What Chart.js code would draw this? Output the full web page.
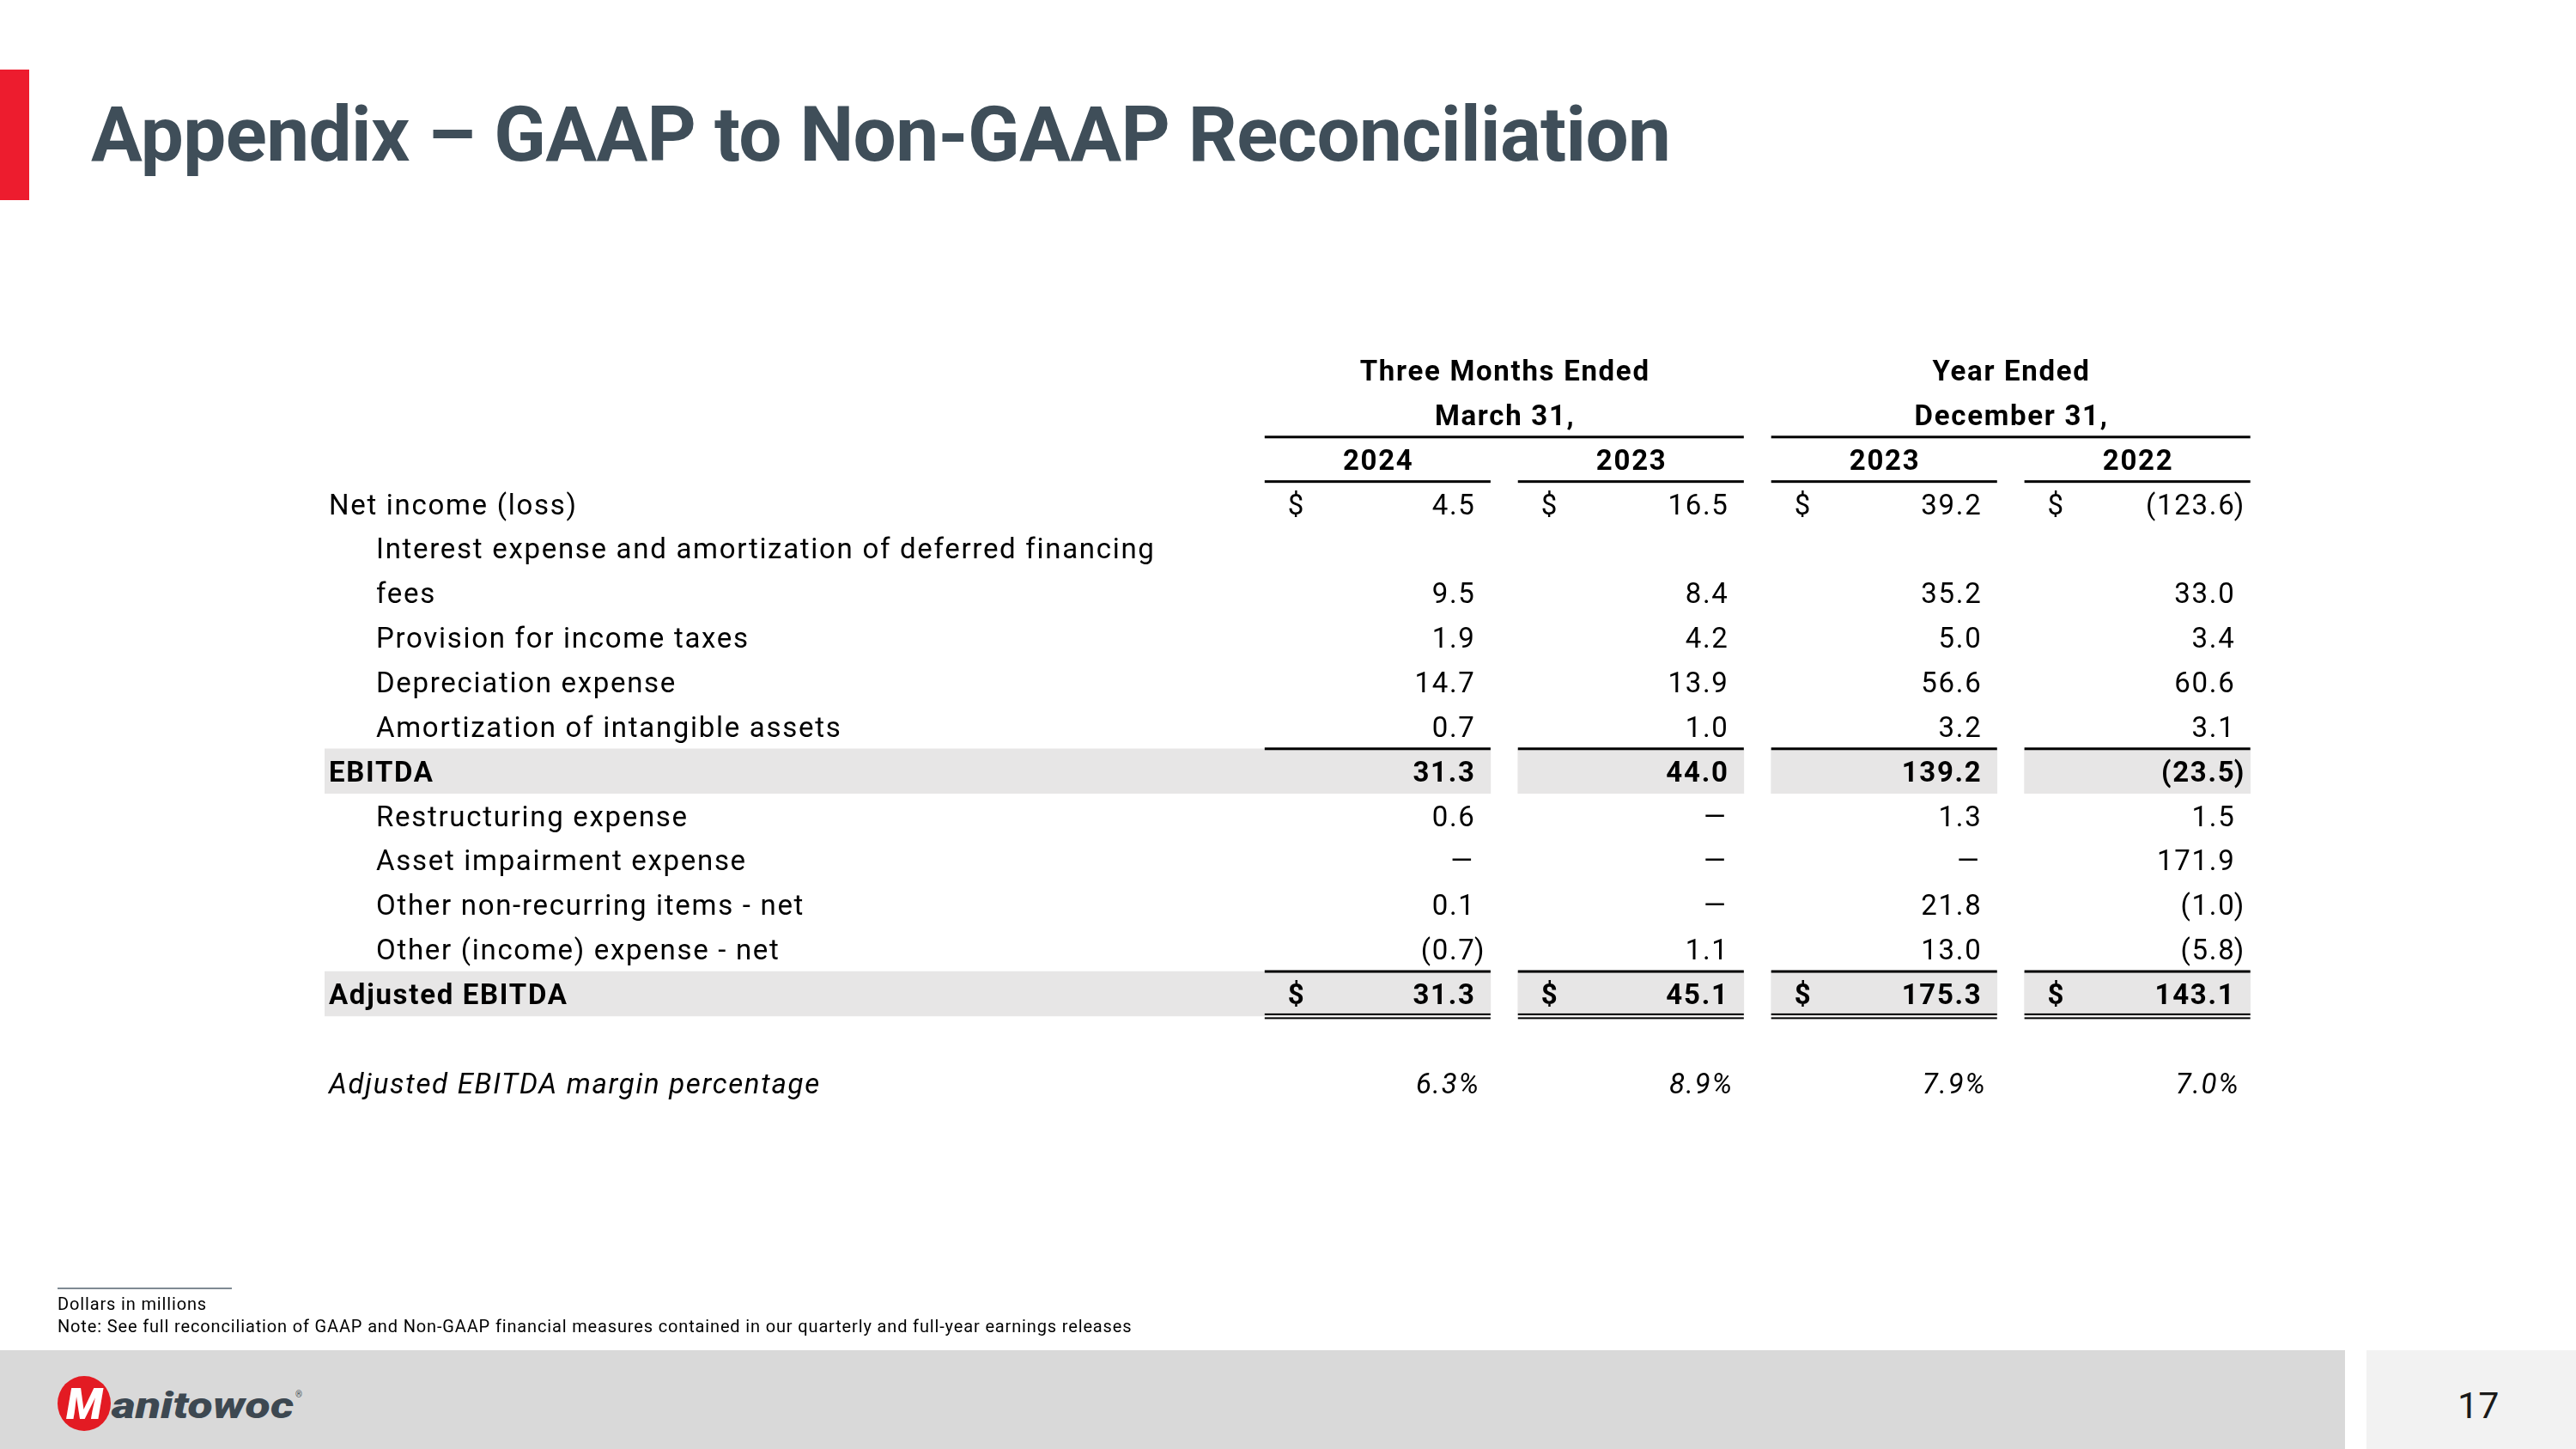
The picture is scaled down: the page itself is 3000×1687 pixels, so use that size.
<!DOCTYPE html>
<html>
<head>
<meta charset="utf-8">
<script src="https://cdn.jsdelivr.net/npm/chart.js@4.4.1/dist/chart.umd.min.js"></script>
<style>
  html, body { margin: 0; padding: 0; background: #fff; }
  body { width: 3000px; height: 1687px; position: relative; overflow: hidden; font-family: Roboto, sans-serif; }
  .accent { position: absolute; left: 0; top: 81px; width: 34px; height: 152px; background: #ED1C2E; }
  .title { position: absolute; left: 106px; top: 112px; font: bold 89px/89px Roboto; letter-spacing: -0.6px; color: #3F4E59; white-space: nowrap; }
  #table { position: absolute; left: 0; top: 0; }
  .rule { position: absolute; left: 67px; top: 1499px; width: 203px; height: 2px; background: #7F8A93; }
  .note { position: absolute; left: 67px; font: 20px/20px Roboto; letter-spacing: 0.85px; color: #000; white-space: nowrap; }
  .band { position: absolute; left: 0; top: 1572px; width: 2731px; height: 115px; background: #D9D9D9; }
  .pagebox { position: absolute; left: 2756px; top: 1572px; width: 244px; height: 115px; background: #F2F2F2; }
  .pagenum { position: absolute; left: 2862px; top: 1615px; font: 43px/43px Roboto; color: #1A1A1A; }
  .logo { position: absolute; left: 60px; top: 1595px; }
</style>
</head>
<body>
<div class="accent"></div>
<div class="title">Appendix – GAAP to Non-GAAP Reconciliation</div>

<canvas id="table" width="3000" height="1687"></canvas>

<div class="rule"></div>
<div class="note" style="top:1508px">Dollars in millions</div>
<div class="note" style="top:1534px">Note: See full reconciliation of GAAP and Non-GAAP financial measures contained in our quarterly and full-year earnings releases</div>
<div class="band"></div>
<div class="pagebox"></div>
<div class="pagenum">17</div>
<svg class="logo" width="300" height="80" viewBox="0 0 300 80">
  <ellipse cx="38" cy="39" rx="31" ry="32" fill="#E31B23"/>
  <text x="17" y="57" font-family="Roboto" font-weight="900" font-style="italic" font-size="50" fill="#fff">M</text>
  <text x="70" y="56" font-family="Roboto" font-weight="900" font-style="italic" font-size="42" fill="#3D4851" textLength="212" lengthAdjust="spacingAndGlyphs">anitowoc</text>
  <text x="284" y="32" font-family="Roboto" font-size="10" fill="#3D4851">®</text>
</svg>

<script>
// periods / columns
const periodTitles = ['Three Months Ended', 'Year Ended'];
const periodDates = ['March 31,', 'December 31,'];
const years = ['2024', '2023', '2023', '2022'];

// line items ("\n" = where the label wraps on the slide)
const lineItems = [
  'Net income (loss)',
  'Interest expense and amortization of deferred financing\nfees',
  'Provision for income taxes',
  'Depreciation expense',
  'Amortization of intangible assets',
  'EBITDA',
  'Restructuring expense',
  'Asset impairment expense',
  'Other non-recurring items - net',
  'Other (income) expense - net',
  'Adjusted EBITDA'
];

// values, $ millions (0 shows as a dash)
const q1_2024 = [4.5, 9.5, 1.9, 14.7, 0.7, 31.3, 0.6, 0, 0.1, -0.7, 31.3];
const q1_2023 = [16.5, 8.4, 4.2, 13.9, 1.0, 44.0, 0, 0, 0, 1.1, 45.1];
const fy_2023 = [39.2, 35.2, 5.0, 56.6, 3.2, 139.2, 1.3, 0, 21.8, 13.0, 175.3];
const fy_2022 = [-123.6, 33.0, 3.4, 60.6, 3.1, -23.5, 1.5, 171.9, -1.0, -5.8, 143.1];

const marginLabel = 'Adjusted EBITDA margin percentage';
const marginPct = [6.3, 8.9, 7.9, 7.0];

const subtotalRows = ['EBITDA', 'Adjusted EBITDA'];
const dollarRows = ['Net income (loss)', 'Adjusted EBITDA'];
const columns = [q1_2024, q1_2023, fy_2023, fy_2022];

// layout of the value axis: columns sit at 0..3, label column to the left
const X_MIN = -4.158, X_MAX = 3.447, HALF = 0.446;
const FONT = '33px Roboto';
const BOLD = 'bold 33px Roboto';
const SPACING = '1.7px';

// build the table rows (3 header rows, items, blank, margin)
let rows = [{ kind: 'period' }, { kind: 'date' }, { kind: 'year' }];
lineItems.forEach((item, idx) => {
  let parts = item.split('\n');
  let flush = dollarRows.includes(item) || subtotalRows.includes(item);
  parts.forEach((p, k) => {
    rows.push({
      kind: k == parts.length - 1 ? 'item' : 'text',
      label: p,
      name: item,
      idx: idx,
      indent: !flush,
      bold: subtotalRows.includes(item)
    });
  });
});
rows.push({ kind: 'blank' });
rows.push({ kind: 'margin', label: marginLabel });

function fmt(v) {
  if (v === 0) return ['—', ''];
  if (v < 0) return ['(' + Math.abs(v).toFixed(1), ')'];
  return [v.toFixed(1), ''];
}

// grey fill behind subtotal rows, one bar per column
let shadeSets = columns.map((col, c) => ({
  type: 'bar',
  data: rows.map(r => r.kind == 'item' && subtotalRows.includes(r.name) ? [c == 0 ? X_MIN : c - HALF, c + HALF] : null),
  backgroundColor: '#E7E6E6',
  grouped: false,
  barPercentage: 1,
  categoryPercentage: 1
}));

const tablePlugin = {
  id: 'tableText',
  afterDatasetsDraw(chart) {
    const { ctx, scales: { x, y } } = chart;
    const rowY = i => y.getPixelForValue(i);
    const edgeY = i => (rowY(i) + rowY(i + 1)) / 2;
    const colL = c => x.getPixelForValue(c - HALF);
    const colR = c => x.getPixelForValue(c + HALF);
    const left = x.getPixelForValue(X_MIN);

    function hline(x1, x2, yy, lw) {
      ctx.fillStyle = '#000';
      ctx.fillRect(x1, yy - lw / 2, x2 - x1, lw);
    }
    function text(t, px, py, font, align) {
      ctx.font = font;
      ctx.textAlign = align;
      ctx.fillStyle = '#000';
      // trailing spacing would push right-aligned text left
      if (align == 'right') px += parseFloat(SPACING);
      if (align == 'center') px += parseFloat(SPACING) / 2;
      ctx.fillText(t, px, py);
    }

    ctx.save();
    ctx.letterSpacing = SPACING;
    ctx.textBaseline = 'alphabetic';
    rows.forEach((r, i) => {
      let base = rowY(i) + 12;
      if (r.kind == 'period' || r.kind == 'date') {
        let arr = r.kind == 'period' ? periodTitles : periodDates;
        arr.forEach((t, g) => text(t, x.getPixelForValue(g * 2 + 0.5), base, BOLD, 'center'));
      } else if (r.kind == 'year') {
        years.forEach((t, c) => text(t, x.getPixelForValue(c), base, BOLD, 'center'));
      } else if (r.kind == 'text') {
        text(r.label, left + (r.indent ? 60 : 5), base, r.bold ? BOLD : FONT, 'left');
      } else if (r.kind == 'item') {
        let f = r.bold ? BOLD : FONT;
        text(r.label, left + (r.indent ? 60 : 5), base, f, 'left');
        columns.forEach((col, c) => {
          let [num, close] = fmt(col[r.idx]);
          let rx = colR(c) - 19;
          if (num == '—') rx -= 2;
          text(num, rx, base, f, 'right');
          if (close) text(close, rx, base, f, 'left');
          if (dollarRows.includes(r.name)) text('$', colL(c) + 27, base, f, 'left');
        });
      } else if (r.kind == 'margin') {
        text(r.label, left + 5, base, 'italic ' + FONT, 'left');
        marginPct.forEach((v, c) => text(v.toFixed(1) + '%', colR(c) - 14, base, 'italic ' + FONT, 'right'));
      }
    });

    // rules under the period dates (span two columns)
    [0, 2].forEach(c => hline(colL(c), colR(c + 1), edgeY(1), 3));
    // rules under the years
    years.forEach((t, c) => hline(colL(c), colR(c), edgeY(2), 3));
    // rules above subtotals, double rule under the last one
    rows.forEach((r, i) => {
      if (r.kind == 'item' && subtotalRows.includes(r.name)) {
        columns.forEach((col, c) => hline(colL(c), colR(c), edgeY(i - 1), 3));
        if (r.name == subtotalRows[subtotalRows.length - 1]) {
          columns.forEach((col, c) => {
            hline(colL(c), colR(c), edgeY(i) - 2, 2);
            hline(colL(c), colR(c), edgeY(i) + 2.5, 2);
          });
        }
      }
    });
    ctx.restore();
  }
};

new Chart(document.getElementById('table'), {
  type: 'bar',
  data: {
    labels: rows.map(r => r.label || ''),
    datasets: shadeSets
  },
  options: {
    indexAxis: 'y',
    responsive: false,
    devicePixelRatio: 1,
    animation: false,
    layout: { padding: { left: 378, right: 379, top: 405.1, bottom: 400.4 } },
    scales: {
      x: { type: 'linear', min: X_MIN, max: X_MAX, display: false },
      y: { type: 'category', display: false, offset: true }
    },
    plugins: {
      legend: { display: false },
      tooltip: { enabled: false }
    }
  },
  plugins: [tablePlugin]
});
</script>
</body>
</html>
